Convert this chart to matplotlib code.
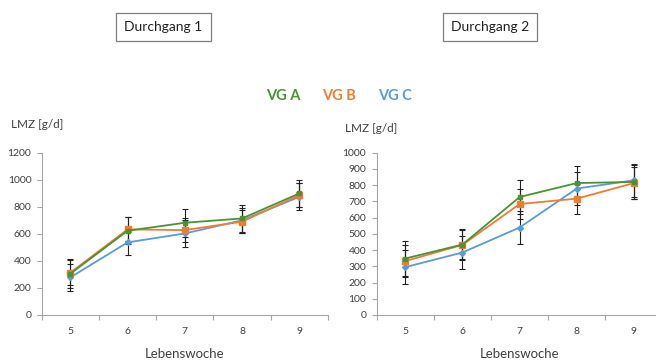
import matplotlib.pyplot as plt
import numpy as np

plt.rcParams['font.family'] = ['Lato', 'DejaVu Sans']

wochen = ["5", "6", "7", "8", "9"]

# Durchgang 1
d1_a = [305, 623, 682, 714, 899]
d1_b = [313, 633, 628, 690, 887]
d1_c = [278, 537, 603, 700, 874]
d1_a_err = [106, 100, 104, 100, 101]
d1_b_err = [90, 88, 91, 85, 86]
d1_c_err = [101, 95, 98, 92, 101]

# Durchgang 2
d2_a = [348, 434, 727, 813, 820]
d2_b = [332, 432, 684, 717, 813]
d2_c = [295, 385, 539, 779, 830]
d2_a_err = [105, 97, 105, 105, 105]
d2_b_err = [98, 90, 90, 92, 100]
d2_c_err = [105, 100, 103, 103, 100]

col_a = "#4a9335"
col_b = "#ed7d31"
col_c = "#5b9bd5"
grau = "#a6a6a6"
text_col = "#404040"

fig = plt.figure(figsize=(6.56, 3.6), dpi=100)
ax1 = fig.add_axes([0.0636, 0.125, 0.4364, 0.4508])
ax2 = fig.add_axes([0.5742, 0.125, 0.4357, 0.4508])


def panel(ax, a, b, c, ea, eb, ec, ymax, ystep):
    x = np.arange(len(wochen))
    for vals, errs, col, mk, ms in [(c, ec, col_c, "D", 3),
                                    (b, eb, col_b, "s", 4.5),
                                    (a, ea, col_a, "s", 3.5)]:
        ax.errorbar(x, vals, yerr=errs, color=col, marker=mk, markersize=ms,
                    lw=1.3, ecolor="#222222", elinewidth=0.8, capsize=2.2,
                    capthick=0.8, zorder=3)
    ax.set_xlim(-0.5, len(wochen) - 0.5)
    ax.set_ylim(0, ymax)
    ax.set_yticks(np.arange(0, ymax + 1, ystep))
    ax.set_xticks(x)
    ax.set_xticklabels(wochen)
    ax.set_xticks(np.arange(-0.5, len(wochen)), minor=True)
    ax.tick_params(axis="x", which="major", length=0, pad=9,
                   labelsize=7.5, labelcolor=text_col)
    ax.tick_params(axis="x", which="minor", length=3.5, color=grau, width=0.8)
    ax.tick_params(axis="y", length=3.5, color=grau, width=0.8,
                   labelsize=7.5, labelcolor=text_col, pad=4)
    for s in ["top", "right"]:
        ax.spines[s].set_visible(False)
    for s in ["left", "bottom"]:
        ax.spines[s].set_color(grau)
        ax.spines[s].set_linewidth(0.8)
    ax.set_xlabel("Lebenswoche", fontsize=9.5, color=text_col, labelpad=8)


panel(ax1, d1_a, d1_b, d1_c, d1_a_err, d1_b_err, d1_c_err, 1200, 200)
panel(ax2, d2_a, d2_b, d2_c, d2_a_err, d2_b_err, d2_c_err, 1000, 100)

fig.text(11 / 656, 1 - 125 / 360, "LMZ [g/d]", fontsize=8.5, color=text_col,
         va="center", ha="left")
fig.text(345 / 656, 1 - 128 / 360, "LMZ [g/d]", fontsize=8.5, color=text_col,
         va="center", ha="left")

box = dict(boxstyle="square,pad=0.6", fc="white", ec="#7f7f7f", lw=0.9)
fig.text(163.5 / 656, 1 - 27 / 360, "Durchgang 1", fontsize=10, color="#222222",
         ha="center", va="center", bbox=box)
fig.text(490 / 656, 1 - 27 / 360, "Durchgang 2", fontsize=10, color="#222222",
         ha="center", va="center", bbox=box)

for txt, xc, col in [("VG A", 283, col_a), ("VG B", 339, col_b), ("VG C", 395, col_c)]:
    fig.text(xc / 656, 1 - 96 / 360, txt, fontsize=10.5, fontweight="bold",
             color=col, ha="center", va="center")

fig.savefig("out.png", dpi=100)
